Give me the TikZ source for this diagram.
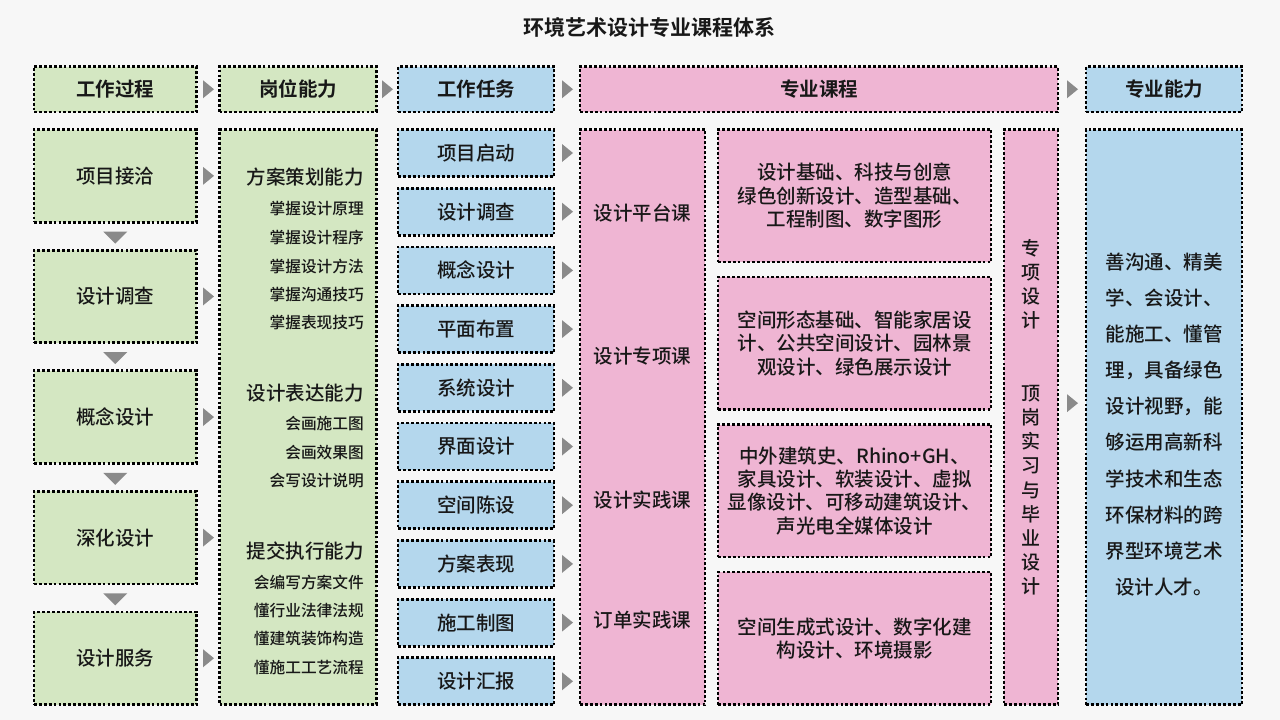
\documentclass[tikz,border=0pt]{standalone}
\usepackage{fontspec}
\setmainfont{Noto Sans CJK SC}[UprightFont={* Medium}, BoldFont={* Bold}]
\usetikzlibrary{calc}
\definecolor{bg}{RGB}{247,247,247}
\definecolor{gfill}{RGB}{212,231,194}
\definecolor{bfill}{RGB}{180,215,237}
\definecolor{pfill}{RGB}{239,181,211}
\definecolor{agray}{RGB}{138,138,138}
\definecolor{ink}{RGB}{24,24,24}
\newcommand\mkbox[7]{\node[#6, minimum width={(#4)-(#2)}, minimum height={(#5)-(#3)}] (#1) at ({((#2)+(#4))/2},{((#3)+(#5))/2}) {#7};}
\newcommand\rarr[2]{\fill[agray] (#1.east -| #2,0) ++(0,-9) -- ++(11,9) -- ++(-11,9) -- cycle;}
\newcommand\darr[1]{\fill[agray] (#1.south) ++(-12,8) -- ++(24,0) -- ++(-12,12) -- cycle;}
\begin{document}
\begin{tikzpicture}[x=1pt,y=-1pt,
  box/.style={draw=black, line width=2.8pt, dash pattern=on 2.8pt off 2.1pt, inner sep=0pt, text=ink, font=\fontsize{19.5}{23.3}\selectfont, align=center},
  gbox/.style={box, fill=gfill},
  bbox/.style={box, fill=bfill},
  pbox/.style={box, fill=pfill},
  hdr/.style={font=\bfseries\fontsize{19.5}{23.3}\selectfont},
  txt/.style={inner sep=0pt, text=ink, font=\fontsize{19.5}{23.3}\selectfont, align=center},
  big/.style={inner sep=0pt, text=ink, anchor=east, font=\fontsize{19.5}{23.3}\selectfont},
  small/.style={inner sep=0pt, text=ink, anchor=east, font=\fontsize{15.7}{18}\selectfont}
]
\fill[bg] (0,0) rectangle (1280,720);
\useasboundingbox (0,0) rectangle (1280,720);

\node[inner sep=0pt, text=ink, font=\bfseries\fontsize{21}{25}\selectfont] (title) at (649,27) {环境艺术设计专业课程体系};

% header row
\mkbox{h1}{34}{66.5}{196.5}{112}{gbox,hdr}{工作过程}
\mkbox{h2}{219.5}{66.5}{376.5}{112}{gbox,hdr}{岗位能力}
\mkbox{h3}{398}{66.5}{554}{112}{bbox,hdr}{工作任务}
\mkbox{h4}{580}{66.5}{1058}{112}{pbox,hdr}{专业课程}
\mkbox{h5}{1086}{66.5}{1242}{112}{bbox,hdr}{专业能力}
\rarr{h1}{203}
\rarr{h2}{382}
\rarr{h3}{562}
\rarr{h4}{1067}

% column 1
\mkbox{p1}{34}{129.5}{196.5}{222.2}{gbox}{项目接洽}
\mkbox{p2}{34}{250.1}{196.5}{342.8}{gbox}{设计调查}
\mkbox{p3}{34}{370.7}{196.5}{463.4}{gbox}{概念设计}
\mkbox{p4}{34}{491.3}{196.5}{584.0}{gbox}{深化设计}
\mkbox{p5}{34}{611.9}{196.5}{704.6}{gbox}{设计服务}
\foreach \n in {p1,p2,p3,p4,p5}{\rarr{\n}{203}}
\foreach \n in {p1,p2,p3,p4}{\darr{\n}}

% column 2
\mkbox{q}{219.5}{129.5}{376.5}{704.8}{gbox}{}
\node[big] (k1) at (364,177) {方案策划能力};
\node[small] (k2) at (364,209) {掌握设计原理};
\node[small] (k3) at (364,237.5) {掌握设计程序};
\node[small] (k4) at (364,266) {掌握设计方法};
\node[small] (k5) at (364,294.5) {掌握沟通技巧};
\node[small] (k6) at (364,323) {掌握表现技巧};
\node[big] (k7) at (364,393) {设计表达能力};
\node[small] (k8) at (364,424) {会画施工图};
\node[small] (k9) at (364,452.5) {会画效果图};
\node[small] (k10) at (364,481) {会写设计说明};
\node[big] (k11) at (364,551) {提交执行能力};
\node[small] (k12) at (364,582) {会编写方案文件};
\node[small] (k13) at (364,610.5) {懂行业法律法规};
\node[small] (k14) at (364,639) {懂建筑装饰构造};
\node[small] (k15) at (364,668) {懂施工工艺流程};

% column 3
\foreach \i/\t in {0/项目启动,1/设计调查,2/概念设计,3/平面布置,4/系统设计,5/界面设计,6/空间陈设,7/方案表现,8/施工制图,9/设计汇报}{
  \pgfmathsetmacro\ya{129.5+\i*58.7}
  \pgfmathsetmacro\yb{\ya+47}
  \mkbox{t\i}{398}{\ya}{554}{\yb}{bbox}{\t}
  \rarr{t\i}{562}
}

% column 4
\mkbox{c4}{580}{129.5}{705}{704.8}{pbox}{}
\node[txt] (c4a) at (642.5,213) {设计平台课};
\node[txt] (c4b) at (642.5,356) {设计专项课};
\node[txt] (c4c) at (642.5,500) {设计实践课};
\node[txt] (c4d) at (642.5,620) {订单实践课};

% column 5
\mkbox{m1}{718}{129.5}{991}{262}{pbox}{设计基础、科技与创意\\绿色创新设计、造型基础、\\工程制图、数字图形}
\mkbox{m2}{718}{277}{991}{409.5}{pbox}{空间形态基础、智能家居设\\计、公共空间设计、园林景\\观设计、绿色展示设计}
\mkbox{m3}{718}{424.5}{991}{557}{pbox}{中外建筑史、Rhino+GH、\\家具设计、软装设计、虚拟\\显像设计、可移动建筑设计、\\声光电全媒体设计}
\mkbox{m4}{718}{572}{991}{704.6}{pbox}{空间生成式设计、数字化建\\构设计、环境摄影}

% column 6
\mkbox{s6}{1004}{129.5}{1058}{704.8}{pbox,font=\fontsize{19}{24.2}\selectfont}{专\\项\\设\\计\\[48.4pt]顶\\岗\\实\\习\\与\\毕\\业\\设\\计}

% column 7
\mkbox{a7}{1086}{129.5}{1242}{704.8}{bbox}{}
\node[txt, font=\fontsize{19.5}{36.1}\selectfont] (a7t) at (1164,424.5) {善沟通、精美\\学、会设计、\\能施工、懂管\\理，具备绿色\\设计视野，能\\够运用高新科\\学技术和生态\\环保材料的跨\\界型环境艺术\\设计人才。};
\fill[agray] (a7.west -| 1067,0) ++(0,-23) -- ++(11,9) -- ++(-11,9) -- cycle;
\end{tikzpicture}
\end{document}
